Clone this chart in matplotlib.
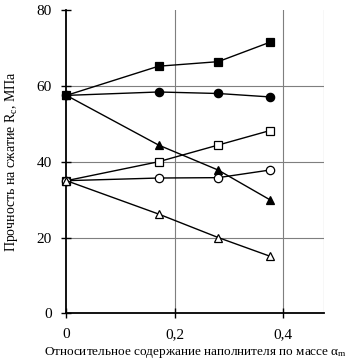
import matplotlib
matplotlib.use('Agg')
import matplotlib.pyplot as plt

plt.rcParams['font.family'] = ['Liberation Serif', 'DejaVu Serif']
plt.rcParams['mathtext.fontset'] = 'custom'
plt.rcParams['mathtext.rm'] = 'Liberation Serif'
plt.rcParams['mathtext.it'] = 'Liberation Serif:italic'

# filler mass fraction
x = [0, 0.17, 0.28, 0.375]

# strength, MPa
filled_square = [57.5, 65.2, 66.4, 71.5]
filled_circle = [57.5, 58.4, 58.0, 57.1]
filled_triangle = [57.5, 44.4, 37.8, 30.0]
open_square = [35.0, 40.0, 44.4, 48.2]
open_circle = [35.0, 35.7, 35.8, 37.8]
open_triangle = [35.0, 26.2, 20.0, 15.1]

x_ticks = [0, 0.2, 0.4]
x_tick_labels = ['0', '0,2', '0,4']
y_ticks = [0, 20, 40, 60, 80]

fig = plt.figure(figsize=(3.46, 3.61), dpi=100)
ax = fig.add_axes([0.192, 0.132, 0.744, 0.840])

#grid lines
for v in [20, 40, 60]:
    ax.axhline(v, color='#7f7f7f', lw=0.8, zorder=1)
for v in [0.2, 0.4, 0.475]:
    ax.axvline(v, color='#7f7f7f', lw=0.8, zorder=1)

series = [
    (filled_square, 's', 'black'),
    (filled_circle, 'o', 'black'),
    (filled_triangle, '^', 'black'),
    (open_square, 's', 'white'),
    (open_circle, 'o', 'white'),
    (open_triangle, '^', 'white'),
]
for vals, m, fc in series:
    ax.plot(x, vals, color='black', lw=1.0, marker=m, markersize=6,
            markerfacecolor=fc, markeredgecolor='black', markeredgewidth=0.9,
            zorder=3, clip_on=False)

ax.set_xlim(0, 0.475)
ax.set_ylim(0, 80)
ax.set_xticks(x_ticks)
ax.set_xticklabels(x_tick_labels)
ax.set_yticks(y_ticks)

for s in ['top', 'right']:
    ax.spines[s].set_visible(False)
ax.spines['left'].set_linewidth(1.3)
ax.spines['bottom'].set_linewidth(1.3)
ax.tick_params(direction='inout', length=7, width=1.0, labelsize=11, pad=7)

ax.set_xlabel('Относительное содержание наполнителя по массе α$_{\\mathrm{m}}$',
              fontsize=9.5, labelpad=3)
ax.set_ylabel('Прочность на сжатие R$_{\\mathrm{c}}$, МПа', fontsize=10, labelpad=12)

plt.savefig('out.png', dpi=100)
